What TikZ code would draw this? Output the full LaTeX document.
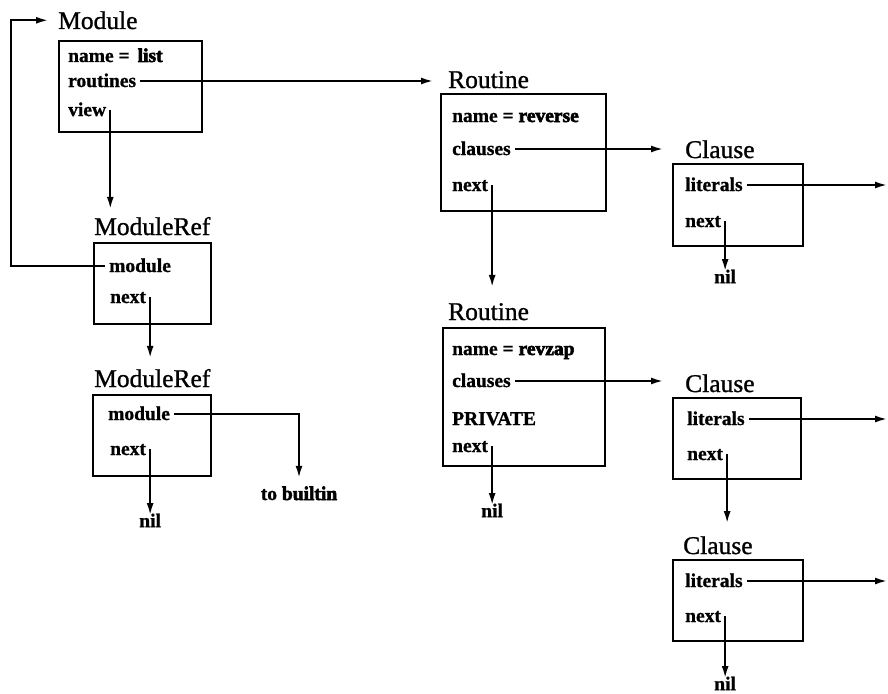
\documentclass[tikz,border=0pt]{standalone}
\usepackage{fontspec}
\setmainfont{Liberation Serif}
\newfontface\headface{Liberation Serif}[FakeBold=1]
\newfontface\fieldface{Liberation Serif Bold}[FakeBold=1]
\newfontface\blackface{Liberation Serif Bold}[FakeBold=3]
\newcommand{\blk}[1]{{\blackface #1}}
\usepackage{tikz}
\usetikzlibrary{
    arrows.meta,
    positioning,
    calc
}

\begin{document}
\begin{tikzpicture}[
    x=1pt, y=-1pt,
    record/.style={
        rectangle,
        draw,
        line width=2pt,
        inner sep=0pt,
        anchor=north west
    },
    title/.style={
        inner sep=0pt,
        anchor=base west,
        font=\fontsize{25.5}{28}\headface
    },
    field/.style={
        inner xsep=4pt,
        inner ysep=0pt,
        text height=12pt,
        text depth=0pt,
        anchor=base west,
        font=\fontsize{19.5}{22}\fieldface
    },
    arrow/.style={
        -{Latex[length=12pt,width=7pt]},
        line width=1.9pt
    }
]
\useasboundingbox (0,0) rectangle (888,693);
\coordinate (rim) at (887,0);

% Module
\node[record, minimum width=143pt, minimum height=91pt] (m) at (58,40) {};
\node[title] (mt) at (58,29) {Module};
\node[field] (mname) at (64,62) {name =\hspace{8pt}\blk{list}};
\node[field] (mrout) at (64,87) {routines};
\node[field] (mview) at (64,116) {view};

% ModuleRef chain
\node[record, minimum width=117pt, minimum height=81pt] (mra) at (93,242) {};
\node[title] (mrat) at (94,235) {ModuleRef};
\node[field] (mramod) at (105,272) {module};
\node[field] (mranext) at (106,303) {next};

\node[record, minimum width=118pt, minimum height=81pt] (mrb) at (92,394) {};
\node[title] (mrbt) at (94,387) {ModuleRef};
\node[field] (mrbmod) at (104,420) {module};
\node[field] (mrbnext) at (106,455) {next};
\node[field, below=66pt of mrbnext.east] (mrbnil) {nil};
\node[field, anchor=base] (tob) at (299,500) {to \blk{builtin}};

% Routine reverse
\node[record, minimum width=165pt, minimum height=117pt] (ra) at (440,93) {};
\node[title] (rat) at (448,88) {Routine};
\node[field] (raname) at (448,122) {name = \blk{reverse}};
\node[field] (racl) at (448,155) {clauses};
\node[field] (ranext) at (448,191) {next};

% Routine revzap
\node[record, minimum width=162pt, minimum height=138pt] (rb) at (442,327) {};
\node[title] (rbt) at (448,320) {Routine};
\node[field] (rbname) at (448,355) {name = \blk{revzap}};
\node[field] (rbcl) at (448,387) {clauses};
\node[field] (rbpriv) at (448,425) {PRIVATE};
\node[field] (rbnext) at (448,452) {next};
\node[field, below=59pt of rbnext.east] (rbnil) {nil};

% Clauses
\node[record, minimum width=130pt, minimum height=82pt] (ca) at (672,163) {};
\node[title] (cat) at (685,158) {Clause};
\node[field] (calit) at (681,191) {literals};
\node[field] (canext) at (681,227) {next};
\node[field, below=50pt of canext.east] (canil) {nil};

\node[record, minimum width=128pt, minimum height=81pt] (cb) at (672,397) {};
\node[title] (cbt) at (685,392) {Clause};
\node[field] (cblit) at (683,425) {literals};
\node[field] (cbnext) at (683,460) {next};

\node[record, minimum width=130pt, minimum height=81pt] (cc) at (672,559) {};
\node[title] (cct) at (683,554) {Clause};
\node[field] (cclit) at (681,587) {literals};
\node[field] (ccnext) at (681,622) {next};
\node[field, below=62pt of ccnext.east] (ccnil) {nil};

% Module links
\draw[arrow, shorten >=10pt] (mramod.west) -- ++(-94,0) |- (mt.west);
\draw[arrow, shorten >=15pt] (mrout.east) -- (mrout.east -| rat.west);
\draw[arrow, shorten >=8pt] (mview.east) -- (mview.east |- mrat.north);
\draw[arrow, shorten >=11pt] (mranext.east) -- (mranext.east |- mrbt.north);
\draw[arrow, shorten >=10pt] (mrbmod.east) -| (tob.north);
\draw[arrow] (mrbnext.east) -- (mrbnil);

% Routine links
\draw[arrow, shorten >=22pt] (racl.east) -- (racl.east -| cat.west);
\draw[arrow, shorten >=16pt] (ranext.east) -- (ranext.east |- rbt.north);
\draw[arrow, shorten >=22pt] (rbcl.east) -- (rbcl.east -| cbt.west);
\draw[arrow] (rbnext.east) -- (rbnil);

% Clause links
\draw[arrow] (calit.east) -- (calit.east -| rim);
\draw[arrow] (canext.east) -- (canil);
\draw[arrow] (cblit.east) -- (cblit.east -| rim);
\draw[arrow, shorten >=13pt] (cbnext.east) -- (cbnext.east |- cct.north);
\draw[arrow] (cclit.east) -- (cclit.east -| rim);
\draw[arrow] (ccnext.east) -- (ccnil);

\end{tikzpicture}
\end{document}
